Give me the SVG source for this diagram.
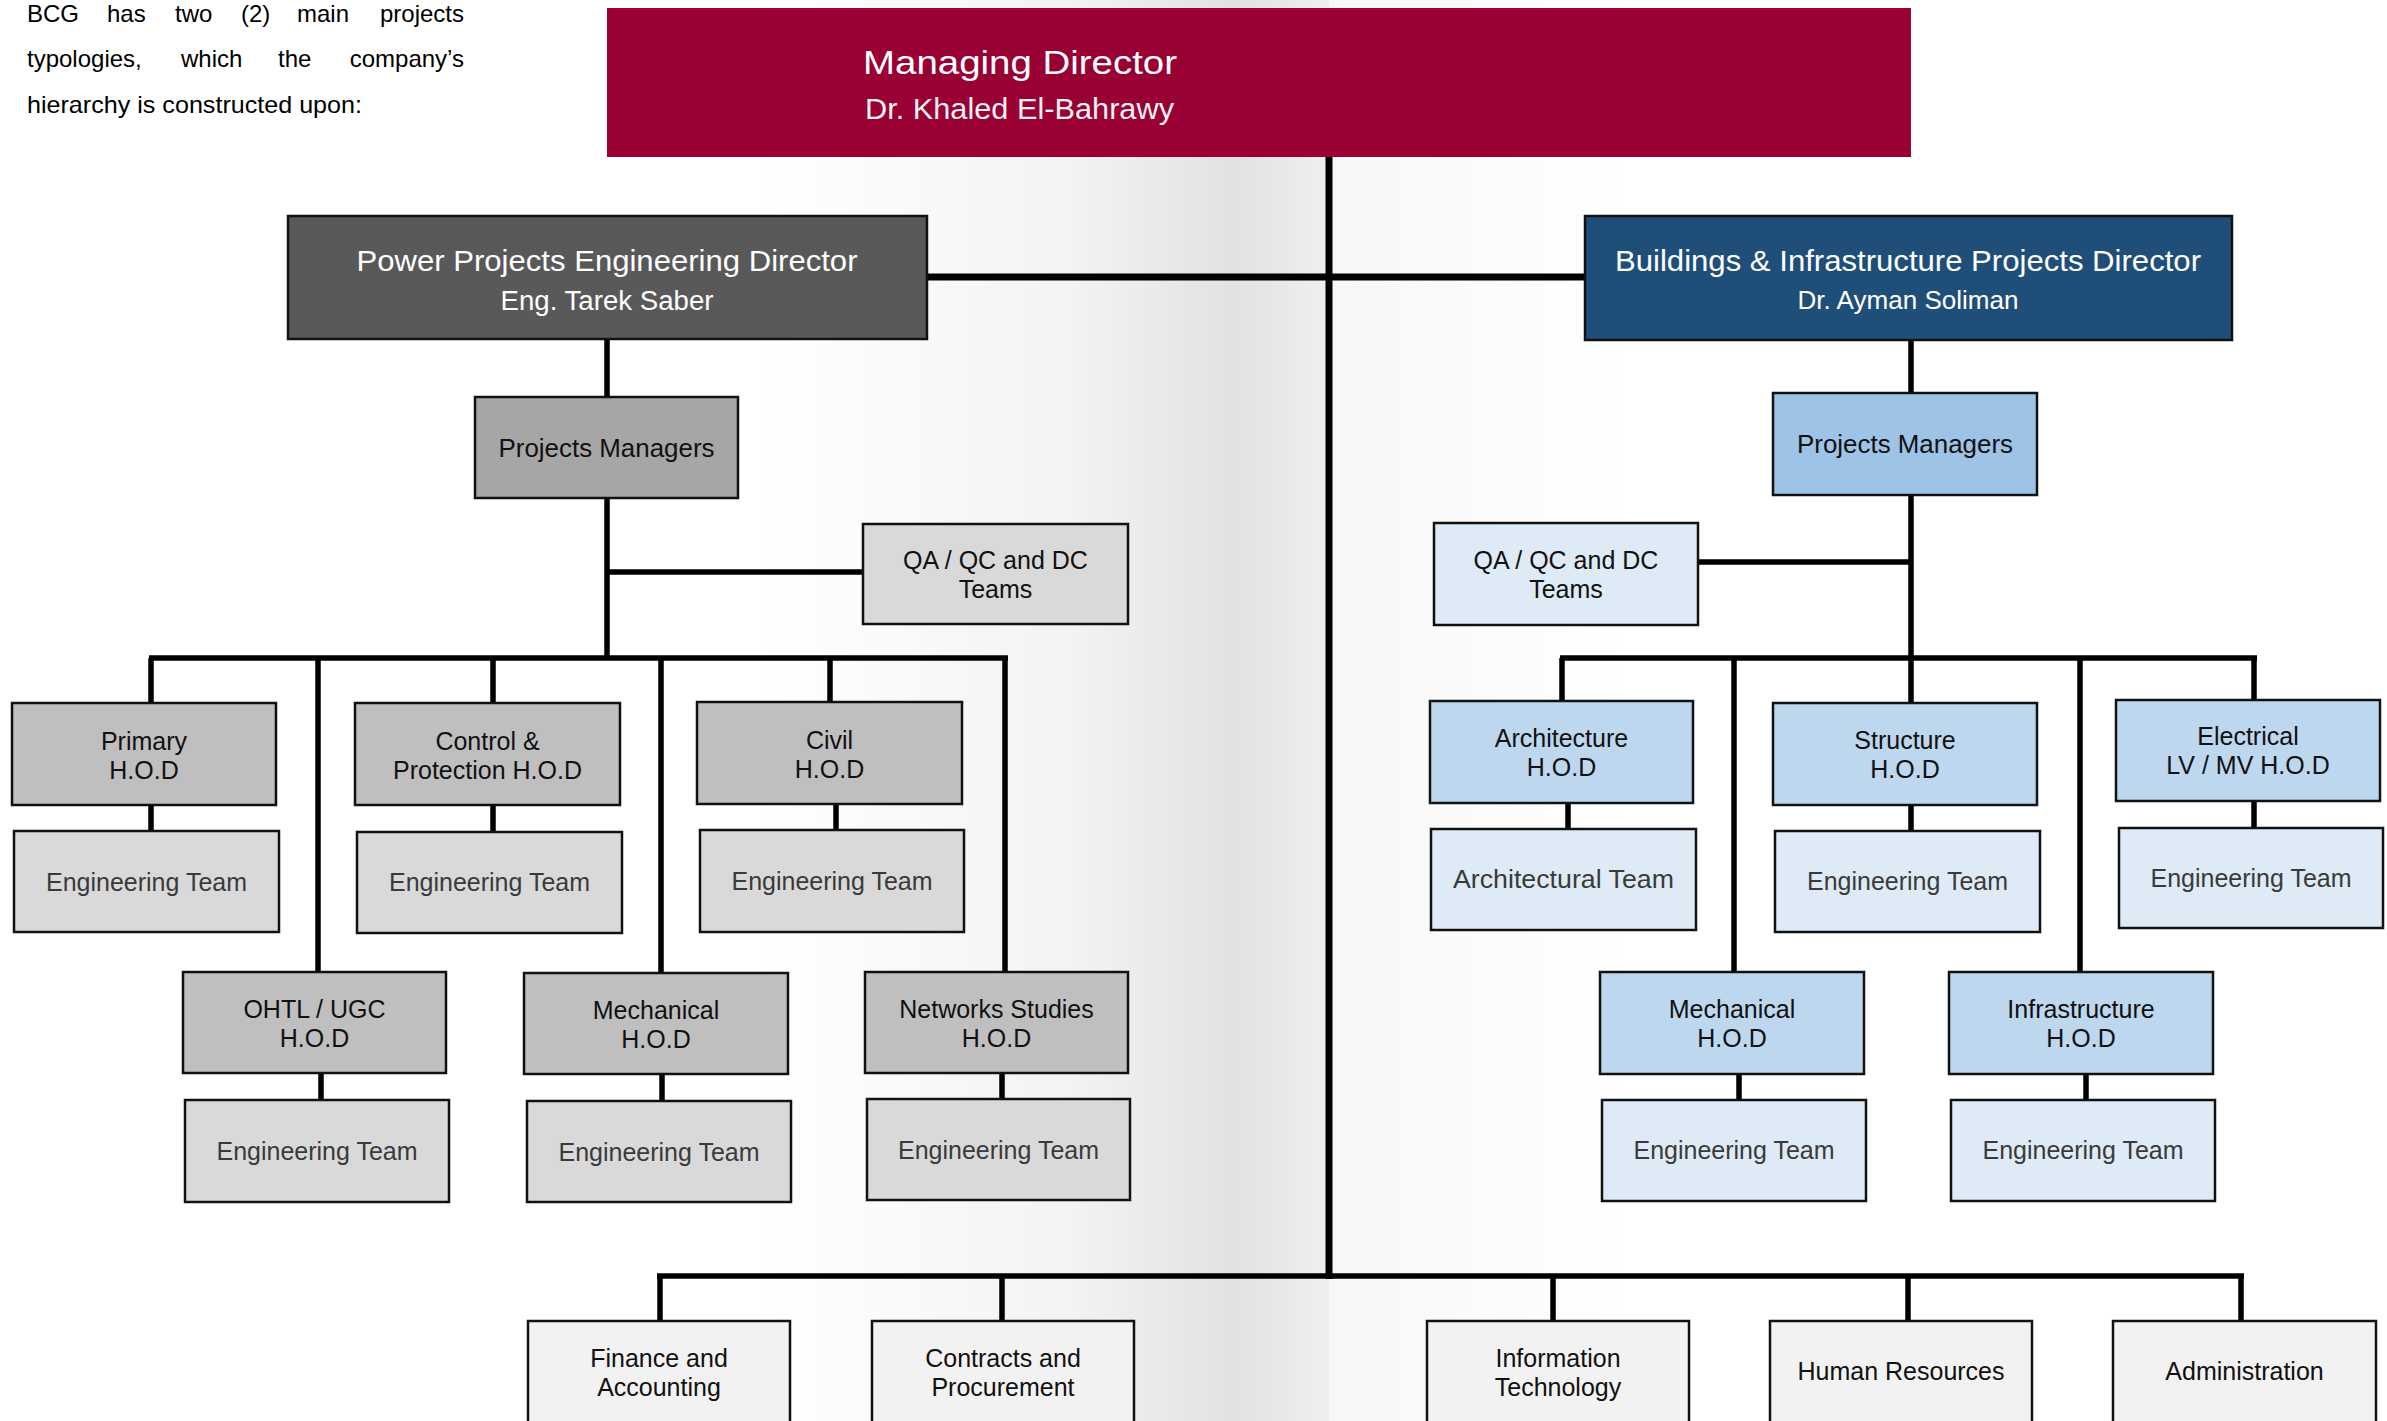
<svg xmlns="http://www.w3.org/2000/svg" width="2387" height="1421" viewBox="0 0 2387 1421">
<defs>
<linearGradient id="foldL" gradientUnits="userSpaceOnUse" x1="760" y1="0" x2="1329" y2="0">
<stop offset="0" stop-color="#ffffff"/>
<stop offset="0.55" stop-color="#f3f3f3"/>
<stop offset="0.83" stop-color="#e2e2e2"/>
<stop offset="1" stop-color="#efefef"/>
</linearGradient>
<linearGradient id="foldR" gradientUnits="userSpaceOnUse" x1="1329" y1="0" x2="1620" y2="0">
<stop offset="0" stop-color="#f7f7f7"/>
<stop offset="1" stop-color="#ffffff"/>
</linearGradient>
<style>
.t{font-family:"Liberation Sans",Arial,sans-serif;font-size:25px;text-anchor:middle;fill:#111}
.tm{fill:#3a3a3a}
.p{font-family:"Liberation Sans",Arial,sans-serif;font-size:24px;fill:#000}
.b{stroke:#111;stroke-width:2.5}
.ln{stroke:#000;stroke-width:5.5;fill:none}
.lt{stroke:#000;stroke-width:7;fill:none}
.g1{fill:#595959}.g2{fill:#a6a6a6}.g3{fill:#bfbfbf}.g4{fill:#d9d9d9}
.b1{fill:#1f4e79}.b2{fill:#9dc3e6}.b3{fill:#bdd7ee}.b4{fill:#deebf7}
.f{fill:#f2f2f2}
.w{fill:#ffffff;font-family:"Liberation Sans",Arial,sans-serif;text-anchor:middle}
</style>
</defs>
<rect x="0" y="0" width="2387" height="1421" fill="#ffffff"/>
<rect x="760" y="0" width="569" height="1421" fill="url(#foldL)"/>
<rect x="1329" y="0" width="291" height="1421" fill="url(#foldR)"/>

<g id="intro">
<text class="p" y="22"><tspan x="27">BCG</tspan><tspan x="107">has</tspan><tspan x="175">two</tspan><tspan x="241">(2)</tspan><tspan x="297">main</tspan><tspan x="464" text-anchor="end">projects</tspan></text>
<text class="p" y="67"><tspan x="27">typologies,</tspan><tspan x="181">which</tspan><tspan x="278">the</tspan><tspan x="464" text-anchor="end">company’s</tspan></text>
<text class="p" x="27" y="113" textLength="335" lengthAdjust="spacingAndGlyphs">hierarchy is constructed upon:</text>
</g>

<g id="connectors">
<path class="lt" d="M1329 157V1279"/>
<path class="lt" d="M927 277H1585"/>
<path class="ln" d="M607 339V397M607 498V660M607 572H863"/>
<path class="ln" d="M149 658H1008"/>
<path class="ln" d="M151 658V703M493 658V703M830 658V702M318 658V972M661 658V973M1005 658V972"/>
<path class="ln" d="M151 805V831M493 805V832M836 804V830M321 1073V1100M662 1074V1101M1002 1073V1099"/>
<path class="ln" d="M1911 340V393M1911 495V703M1698 562H1911"/>
<path class="ln" d="M1560 658H2257"/>
<path class="ln" d="M1562 658V701M1734 658V972M2080 658V972M2254 658V700"/>
<path class="ln" d="M1568 803V829M1911 805V831M2254 801V828M1739 1074V1100M2086 1074V1100"/>
<path class="ln" d="M657 1276H2244"/>
<path class="ln" d="M660 1276V1321M1002 1276V1321M1553 1276V1321M1908 1276V1321M2241 1276V1321"/>
</g>

<g id="managing-director">
<rect x="607" y="8" width="1304" height="149" fill="#990033"/>
<text x="863" y="74" font-family="Liberation Sans, Arial, sans-serif" font-size="34" fill="#ffffff" textLength="314" lengthAdjust="spacingAndGlyphs">Managing Director</text>
<text x="865" y="119" font-family="Liberation Sans, Arial, sans-serif" font-size="30" fill="#f2f2f2" textLength="309" lengthAdjust="spacingAndGlyphs">Dr. Khaled El-Bahrawy</text>
</g>

<g id="power-director">
<rect class="g1 b" x="288" y="216" width="639" height="123"/>
<text class="w" x="607" y="271" font-size="30" textLength="501" lengthAdjust="spacingAndGlyphs">Power Projects Engineering Director</text>
<text class="w" x="607" y="310" font-size="27" fill="#ececec" textLength="213" lengthAdjust="spacingAndGlyphs">Eng. Tarek Saber</text>
</g>

<g id="buildings-director">
<rect class="b1 b" x="1585" y="216" width="647" height="124"/>
<text class="w" x="1908" y="271" font-size="30" textLength="586" lengthAdjust="spacingAndGlyphs">Buildings &amp; Infrastructure Projects Director</text>
<text class="w" x="1908" y="309" font-size="26" fill="#ececec" textLength="221" lengthAdjust="spacingAndGlyphs">Dr. Ayman Soliman</text>
</g>

<g id="power-pm">
<rect class="g2 b" x="475" y="397" width="263" height="101"/>
<text class="t" x="606.5" y="457" textLength="216" lengthAdjust="spacingAndGlyphs">Projects Managers</text>
</g>
<g id="power-qa">
<rect class="g4 b" x="863" y="524" width="265" height="100"/>
<text class="t" x="995.5" y="569">QA / QC and DC</text>
<text class="t" x="995.5" y="598">Teams</text>
</g>

<g id="primary-hod">
<rect class="g3 b" x="12" y="703" width="264" height="102"/>
<text class="t" x="144" y="750">Primary</text>
<text class="t" x="144" y="779">H.O.D</text>
</g>
<g id="primary-team">
<rect class="g4 b" x="14" y="831" width="265" height="101"/>
<text class="t tm" x="146.5" y="891">Engineering Team</text>
</g>
<g id="cp-hod">
<rect class="g3 b" x="355" y="703" width="265" height="102"/>
<text class="t" x="487.5" y="750">Control &amp;</text>
<text class="t" x="487.5" y="779">Protection H.O.D</text>
</g>
<g id="cp-team">
<rect class="g4 b" x="357" y="832" width="265" height="101"/>
<text class="t tm" x="489.5" y="891">Engineering Team</text>
</g>
<g id="civil-hod">
<rect class="g3 b" x="697" y="702" width="265" height="102"/>
<text class="t" x="829.5" y="749">Civil</text>
<text class="t" x="829.5" y="778">H.O.D</text>
</g>
<g id="civil-team">
<rect class="g4 b" x="700" y="830" width="264" height="102"/>
<text class="t tm" x="832" y="890">Engineering Team</text>
</g>
<g id="ohtl-hod">
<rect class="g3 b" x="183" y="972" width="263" height="101"/>
<text class="t" x="314.5" y="1018">OHTL / UGC</text>
<text class="t" x="314.5" y="1047">H.O.D</text>
</g>
<g id="ohtl-team">
<rect class="g4 b" x="185" y="1100" width="264" height="102"/>
<text class="t tm" x="317" y="1160">Engineering Team</text>
</g>
<g id="mech-hod-power">
<rect class="g3 b" x="524" y="973" width="264" height="101"/>
<text class="t" x="656" y="1019">Mechanical</text>
<text class="t" x="656" y="1048">H.O.D</text>
</g>
<g id="mech-team-power">
<rect class="g4 b" x="527" y="1101" width="264" height="101"/>
<text class="t tm" x="659" y="1161">Engineering Team</text>
</g>
<g id="networks-hod">
<rect class="g3 b" x="865" y="972" width="263" height="101"/>
<text class="t" x="996.5" y="1018">Networks Studies</text>
<text class="t" x="996.5" y="1047">H.O.D</text>
</g>
<g id="networks-team">
<rect class="g4 b" x="867" y="1099" width="263" height="101"/>
<text class="t tm" x="998.5" y="1159">Engineering Team</text>
</g>

<g id="buildings-pm">
<rect class="b2 b" x="1773" y="393" width="264" height="102"/>
<text class="t" x="1905" y="453" textLength="216" lengthAdjust="spacingAndGlyphs">Projects Managers</text>
</g>
<g id="buildings-qa">
<rect class="b4 b" x="1434" y="523" width="264" height="102"/>
<text class="t" x="1566" y="569">QA / QC and DC</text>
<text class="t" x="1566" y="598">Teams</text>
</g>
<g id="arch-hod">
<rect class="b3 b" x="1430" y="701" width="263" height="102"/>
<text class="t" x="1561.5" y="747">Architecture</text>
<text class="t" x="1561.5" y="776">H.O.D</text>
</g>
<g id="arch-team">
<rect class="b4 b" x="1431" y="829" width="265" height="101"/>
<text class="t tm" x="1563.5" y="888" textLength="221" lengthAdjust="spacingAndGlyphs">Architectural Team</text>
</g>
<g id="structure-hod">
<rect class="b3 b" x="1773" y="703" width="264" height="102"/>
<text class="t" x="1905" y="749">Structure</text>
<text class="t" x="1905" y="778">H.O.D</text>
</g>
<g id="structure-team">
<rect class="b4 b" x="1775" y="831" width="265" height="101"/>
<text class="t tm" x="1907.5" y="890">Engineering Team</text>
</g>
<g id="electrical-hod">
<rect class="b3 b" x="2116" y="700" width="264" height="101"/>
<text class="t" x="2248" y="745">Electrical</text>
<text class="t" x="2248" y="774">LV / MV H.O.D</text>
</g>
<g id="electrical-team">
<rect class="b4 b" x="2119" y="828" width="264" height="100"/>
<text class="t tm" x="2251" y="887">Engineering Team</text>
</g>
<g id="mech-hod-buildings">
<rect class="b3 b" x="1600" y="972" width="264" height="102"/>
<text class="t" x="1732" y="1018">Mechanical</text>
<text class="t" x="1732" y="1047">H.O.D</text>
</g>
<g id="mech-team-buildings">
<rect class="b4 b" x="1602" y="1100" width="264" height="101"/>
<text class="t tm" x="1734" y="1159">Engineering Team</text>
</g>
<g id="infra-hod">
<rect class="b3 b" x="1949" y="972" width="264" height="102"/>
<text class="t" x="2081" y="1018">Infrastructure</text>
<text class="t" x="2081" y="1047">H.O.D</text>
</g>
<g id="infra-team">
<rect class="b4 b" x="1951" y="1100" width="264" height="101"/>
<text class="t tm" x="2083" y="1159">Engineering Team</text>
</g>

<g id="finance">
<rect class="f b" x="528" y="1321" width="262" height="112"/>
<text class="t" x="659" y="1367">Finance and</text>
<text class="t" x="659" y="1396">Accounting</text>
</g>
<g id="contracts">
<rect class="f b" x="872" y="1321" width="262" height="112"/>
<text class="t" x="1003" y="1367">Contracts and</text>
<text class="t" x="1003" y="1396">Procurement</text>
</g>
<g id="it">
<rect class="f b" x="1427" y="1321" width="262" height="112"/>
<text class="t" x="1558" y="1367">Information</text>
<text class="t" x="1558" y="1396">Technology</text>
</g>
<g id="hr">
<rect class="f b" x="1770" y="1321" width="262" height="112"/>
<text class="t" x="1901" y="1380">Human Resources</text>
</g>
<g id="admin">
<rect class="f b" x="2113" y="1321" width="263" height="112"/>
<text class="t" x="2244.5" y="1380">Administration</text>
</g>
</svg>
